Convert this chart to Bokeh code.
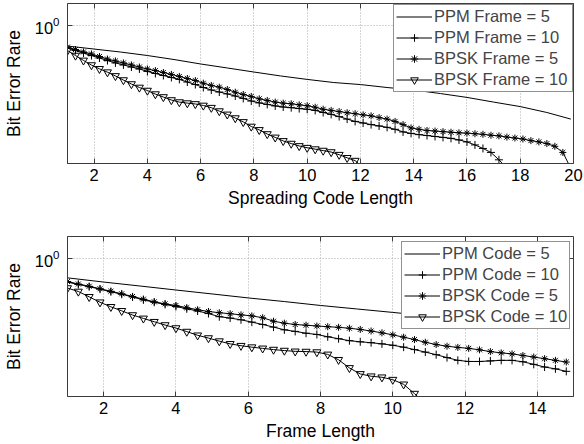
import numpy as np
from bokeh.plotting import figure
from bokeh.layouts import column
from bokeh.models import (FixedTicker, Range1d, Legend, LegendItem, LogTickFormatter,
                          LinearAxis, LogAxis)
from bokeh.embed import file_html
from bokeh.resources import INLINE

# ---------------- data ----------------
# top panel: BER vs spreading code length
x_top = np.round(np.arange(1, 20, 0.3), 1)          # 1.0 ... 19.9
x_top_ppm5 = [1, 2, 3, 4, 5, 6, 7, 8, 9, 10, 11, 12, 13, 14, 15, 16, 17, 18, 19, 19.9]
ppm_frame5 = [0.793, 0.766, 0.740, 0.711, 0.679, 0.645, 0.616, 0.588, 0.562, 0.540,
              0.521, 0.509, 0.492, 0.478, 0.459, 0.439, 0.416, 0.395, 0.369, 0.342]
ppm_frame10 = [0.775, 0.753, 0.732, 0.711, 0.691, 0.671, 0.653, 0.638, 0.623, 0.609,
               0.592, 0.578, 0.565, 0.552, 0.540, 0.524, 0.509, 0.492, 0.478, 0.467,
               0.457, 0.446, 0.434, 0.421, 0.412, 0.405, 0.398, 0.393, 0.390, 0.386,
               0.383, 0.378, 0.369, 0.361, 0.352, 0.342, 0.333, 0.327, 0.321, 0.316,
               0.311, 0.304, 0.295, 0.290, 0.286, 0.283, 0.280, 0.277, 0.274, 0.269,
               0.263, 0.254, 0.244, 0.233, 0.214, 0.194]
bpsk_frame5 = [0.784, 0.762, 0.741, 0.724, 0.703, 0.683, 0.668, 0.653, 0.638, 0.623,
               0.609, 0.598, 0.585, 0.572, 0.559, 0.546, 0.533, 0.517, 0.504, 0.494,
               0.481, 0.466, 0.454, 0.444, 0.432, 0.424, 0.416, 0.411, 0.408, 0.403,
               0.399, 0.392, 0.383, 0.378, 0.373, 0.368, 0.364, 0.359, 0.355, 0.348,
               0.342, 0.333, 0.321, 0.309, 0.304, 0.300, 0.298, 0.296, 0.294, 0.292,
               0.291, 0.289, 0.287, 0.284, 0.282, 0.278, 0.275, 0.272, 0.267, 0.263,
               0.258, 0.250, 0.233, 0.194]
bpsk_frame10 = [0.753, 0.711, 0.672, 0.637, 0.610, 0.587, 0.562, 0.536, 0.512, 0.492,
                0.475, 0.456, 0.441, 0.426, 0.416, 0.411, 0.407, 0.400, 0.390, 0.375,
                0.361, 0.346, 0.331, 0.314, 0.302, 0.288, 0.277, 0.266, 0.258, 0.251,
                0.246, 0.242, 0.238, 0.234, 0.227, 0.219, 0.212, 0.196]

# bottom panel: BER vs frame length
x_bot = np.round(np.arange(1, 15, 0.3), 1)          # 1.0 ... 14.8
x_bot_ppm5 = [1, 2, 3, 4, 5, 6, 7, 8, 9, 10, 11, 12, 13, 14, 14.8]
ppm_code5 = [0.804, 0.766, 0.732, 0.699, 0.668, 0.638, 0.612, 0.585, 0.562, 0.540,
             0.518, 0.501, 0.484, 0.467, 0.454]
ppm_code10 = [0.765, 0.745, 0.726, 0.706, 0.685, 0.666, 0.645, 0.624, 0.607, 0.592,
              0.578, 0.563, 0.549, 0.533, 0.514, 0.506, 0.496, 0.483, 0.470, 0.456,
              0.442, 0.434, 0.425, 0.419, 0.408, 0.399, 0.390, 0.385, 0.381, 0.376,
              0.370, 0.362, 0.352, 0.342, 0.332, 0.321, 0.311, 0.307, 0.307, 0.309,
              0.311, 0.311, 0.306, 0.297, 0.288, 0.282, 0.274]
bpsk_code5 = [0.771, 0.749, 0.730, 0.709, 0.689, 0.669, 0.649, 0.629, 0.610, 0.596,
              0.585, 0.570, 0.557, 0.546, 0.538, 0.532, 0.525, 0.519, 0.508, 0.488,
              0.477, 0.470, 0.466, 0.462, 0.458, 0.455, 0.450, 0.444, 0.436, 0.427,
              0.417, 0.406, 0.395, 0.383, 0.373, 0.366, 0.361, 0.357, 0.351, 0.344,
              0.339, 0.335, 0.329, 0.323, 0.317, 0.311, 0.305]
bpsk_code10 = [0.715, 0.687, 0.646, 0.607, 0.576, 0.550, 0.524, 0.504, 0.485, 0.467,
               0.451, 0.433, 0.415, 0.402, 0.388, 0.376, 0.368, 0.362, 0.357, 0.352,
               0.348, 0.345, 0.344, 0.342, 0.333, 0.313, 0.285, 0.266, 0.259, 0.256,
               0.249, 0.236, 0.212, 0.189]

top_labels = ["PPM Frame = 5", "PPM Frame = 10", "BPSK Frame = 5", "BPSK Frame = 10"]
bot_labels = ["PPM Code = 5", "PPM Code = 10", "BPSK Code = 5", "BPSK Code = 10"]
top_xticks = [2, 4, 6, 8, 10, 12, 14, 16, 18, 20]
bot_xticks = [2, 4, 6, 8, 10, 12, 14]
y_ticks = [1]
y_lo, y_hi = 10 ** -0.688, 10 ** 0.112

FONT = "Liberation Sans"
AX = "#3c3c3c"


def style_axis(ax):
    ax.axis_line_color = AX
    ax.major_tick_line_color = AX
    ax.major_tick_in = 5
    ax.major_tick_out = 0
    ax.minor_tick_line_color = None
    ax.major_label_text_font = FONT
    ax.major_label_text_font_size = "16.5px"
    ax.major_label_text_color = "black"
    ax.axis_label_text_font = FONT
    ax.axis_label_text_font_size = "17.5px"
    ax.axis_label_text_font_style = "normal"
    ax.axis_label_text_color = "black"


def make_fig(height, btop, bbottom, xmax, xticks, xlabel):
    p = figure(width=584, height=height, y_axis_type="log",
               x_range=Range1d(1, xmax), y_range=Range1d(y_lo, y_hi),
               output_backend="svg", toolbar_location=None,
               min_border_left=66, min_border_right=11,
               min_border_top=btop, min_border_bottom=bbottom)
    p.outline_line_color = AX
    p.outline_line_width = 1
    p.outline_line_alpha = 1
    p.xaxis.ticker = FixedTicker(ticks=xticks, minor_ticks=[])
    p.yaxis.ticker = FixedTicker(ticks=y_ticks, minor_ticks=[])
    p.yaxis.formatter = LogTickFormatter()
    p.xgrid.ticker = FixedTicker(ticks=xticks)
    p.ygrid.ticker = FixedTicker(ticks=y_ticks)
    p.grid.grid_line_color = "#a8a8a8"
    p.grid.grid_line_dash = "1 2"
    p.grid.grid_line_width = 1
    style_axis(p.xaxis[0])
    style_axis(p.yaxis[0])
    p.xaxis.axis_label = xlabel
    p.xaxis.major_label_standoff = 5
    p.xaxis.axis_label_standoff = 4
    p.yaxis.axis_label = "Bit Error Rare"
    p.yaxis.major_label_standoff = 8
    p.yaxis.axis_label_standoff = 8
    # mirrored ticks on top and right (MATLAB box style)
    top_ax = LinearAxis(ticker=FixedTicker(ticks=xticks, minor_ticks=[]))
    right_ax = LogAxis(ticker=FixedTicker(ticks=y_ticks, minor_ticks=[]))
    for ax in (top_ax, right_ax):
        ax.axis_line_color = None
        ax.major_tick_line_color = AX
        ax.major_tick_in = 5
        ax.major_tick_out = 0
        ax.minor_tick_line_color = None
        ax.major_label_text_font_size = "0px"
        ax.major_label_standoff = 0
        ax.major_label_text_alpha = 0
    p.add_layout(top_ax, "above")
    p.add_layout(right_ax, "right")
    return p


def add_series(p, labels, x_ppm5, y_ppm5, x, y_ppm10, y_bpsk5, y_bpsk10, loc, lw):
    items = []
    r = p.line(x_ppm5, y_ppm5, line_color="black", line_width=1)
    items.append(LegendItem(label=labels[0], renderers=[r]))
    xs = list(x[:len(y_ppm10)])
    r1 = p.line(xs, y_ppm10, line_color="black", line_width=1)
    r2 = p.scatter(xs, y_ppm10, marker="cross", size=8, line_color="black", line_width=1)
    items.append(LegendItem(label=labels[1], renderers=[r1, r2]))
    xs = list(x[:len(y_bpsk5)])
    r1 = p.line(xs, y_bpsk5, line_color="black", line_width=1)
    r2 = p.scatter(xs, y_bpsk5, marker="asterisk", size=7, line_color="black", line_width=1)
    items.append(LegendItem(label=labels[2], renderers=[r1, r2]))
    xs = list(x[:len(y_bpsk10)])
    r1 = p.line(xs, y_bpsk10, line_color="black", line_width=1)
    r2 = p.scatter(xs, y_bpsk10, marker="inverted_triangle", size=8, line_color="black",
                   fill_color=None, line_width=1)
    items.append(LegendItem(label=labels[3], renderers=[r1, r2]))
    leg = Legend(items=items, location=loc)
    leg.label_text_font = FONT
    leg.label_text_font_size = "16.5px"
    leg.glyph_width = 36
    leg.glyph_height = 19
    leg.label_height = 19
    leg.label_width = lw
    leg.spacing = 2
    leg.padding = 2
    leg.margin = 0
    leg.label_standoff = 2
    leg.border_line_color = "#262626"
    leg.border_line_width = 1
    leg.background_fill_color = "white"
    leg.background_fill_alpha = 1
    p.add_layout(leg)


p1 = make_fig(220, 3, 57, 20, top_xticks, "Spreading Code Length")
add_series(p1, top_labels, x_top_ppm5, ppm_frame5, x_top, ppm_frame10, bpsk_frame5,
           bpsk_frame10, (326, 71), 136)

p2 = make_fig(224, 16, 48, 15, bot_xticks, "Frame Length")
add_series(p2, bot_labels, x_bot_ppm5, ppm_code5, x_bot, ppm_code10, bpsk_code5,
           bpsk_code10, (334, 67), 125)

layout = column(p1, p2, spacing=0)
open("out.html", "w").write(file_html(layout, INLINE))
